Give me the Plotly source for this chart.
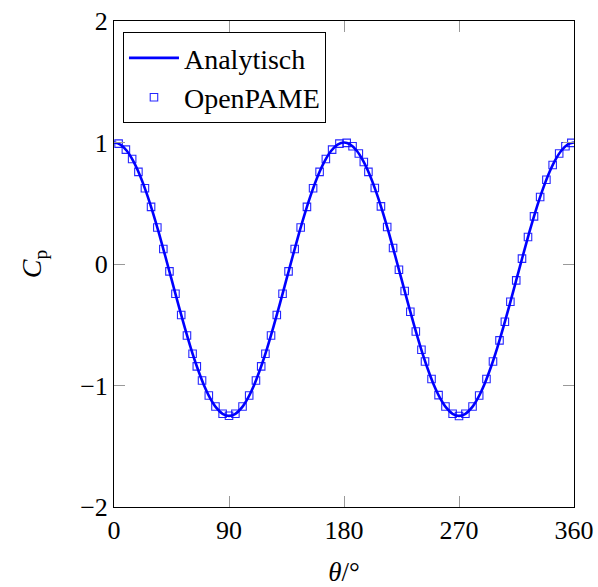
import plotly.graph_objects as go

# Analytic curve (every 5 degrees)
theta_line = list(range(0, 365, 5))
cp_line = [
    1.000, 0.983, 0.932, 0.849, 0.737, 0.598, 0.438, 0.260, 0.070, -0.125,
    -0.320, -0.510, -0.688, -0.848, -0.987, -1.099, -1.182, -1.233, -1.250,
    -1.233, -1.182, -1.099, -0.987, -0.848, -0.688, -0.510, -0.320, -0.125,
    0.070, 0.260, 0.438, 0.598, 0.737, 0.849, 0.932, 0.983, 1.000,
    0.983, 0.932, 0.849, 0.737, 0.598, 0.438, 0.260, 0.070, -0.125,
    -0.320, -0.510, -0.688, -0.848, -0.987, -1.099, -1.182, -1.233, -1.250,
    -1.233, -1.182, -1.099, -0.987, -0.848, -0.688, -0.510, -0.320, -0.125,
    0.070, 0.260, 0.438, 0.598, 0.737, 0.849, 0.932, 0.983, 1.000,
]

# OpenPAME panel results
theta_pts = [
    3.6, 9.3, 14.2, 19.1, 24.2, 29.0, 33.9, 38.6, 43.4, 48.1, 52.6, 57.1, 61.5,
    64.8, 68.9, 74.2, 79.4, 85.0, 90.0,
    95.0, 100.6, 105.8, 111.1, 115.2, 118.5, 122.9, 127.4, 131.9, 136.6, 141.4,
    146.1, 151.0, 155.8, 160.9, 165.8, 170.7, 176.4,
    182.1, 186.7, 191.6, 195.5, 199.1, 204.1, 208.9, 213.8, 218.4, 223.0, 227.5,
    231.9, 236.2, 240.6, 243.4, 248.5, 254.0, 259.4, 265.0, 270.0,
    275.0, 280.6, 285.8, 291.5, 296.6, 301.7, 305.9, 310.2, 314.8, 319.3, 324.0,
    328.7, 333.5, 338.4, 343.3, 348.4, 353.3, 357.9,
]
cp_pts = [
    0.991, 0.941, 0.864, 0.758, 0.623, 0.470, 0.301, 0.124, -0.061, -0.245, -0.420, -0.588, -0.739,
    -0.843, -0.959, -1.082, -1.173, -1.233, -1.249,
    -1.233, -1.173, -1.082, -0.959, -0.843, -0.739, -0.588, -0.420, -0.245, -0.061, 0.124,
    0.301, 0.470, 0.623, 0.758, 0.864, 0.941, 0.991,
    0.997, 0.969, 0.909, 0.840, 0.758, 0.626, 0.474, 0.305, 0.132, -0.047, -0.222,
    -0.393, -0.555, -0.706, -0.802, -0.947, -1.079, -1.173, -1.233, -1.251,
    -1.233, -1.173, -1.082, -0.947, -0.802, -0.629, -0.475, -0.311, -0.135, 0.044, 0.222,
    0.392, 0.552, 0.694, 0.815, 0.909, 0.969, 0.997,
]

x_ticks = [0, 90, 180, 270, 360]
y_ticks = [-2, -1, 0, 1, 2]

FONT = "Liberation Serif"

fig = go.Figure()
fig.add_trace(go.Scatter(
    x=theta_line, y=cp_line, mode="lines", name="Analytisch",
    line=dict(color="#0000ff", width=2.6, shape="spline"),
))
fig.add_trace(go.Scatter(
    x=theta_pts, y=cp_pts, mode="markers", name="OpenPAME",
    marker=dict(symbol="square-open", size=7.5, color="rgba(0,0,255,0.85)",
                line=dict(width=1.1, color="rgba(0,0,255,0.85)")),
))

axis_common = dict(
    showline=True, linecolor="black", linewidth=1, mirror="ticks",
    ticks="inside", ticklen=11, tickcolor="#999", tickwidth=1,
    showgrid=False, zeroline=False, automargin=False,
    tickfont=dict(family=FONT, size=26, color="black"),
)

fig.update_layout(
    width=598, height=587,
    margin=dict(l=114, r=24, t=21, b=80),
    paper_bgcolor="white", plot_bgcolor="white",
    font=dict(family=FONT, color="black"),
    xaxis=dict(range=[0, 360], tickvals=x_ticks,
               title=dict(text="<i>θ</i>/°", font=dict(family=FONT, size=27), standoff=20),
               **axis_common),
    yaxis=dict(range=[-2, 2], tickvals=y_ticks,
               title=dict(text="<i>C</i><sub>p</sub>", font=dict(family=FONT, size=28), standoff=30),
               **axis_common),
    legend=dict(x=0.0195, y=0.977, xanchor="left", yanchor="top",
                bgcolor="white", bordercolor="black", borderwidth=1,
                font=dict(family=FONT, size=28, color="black"),
                itemwidth=50, tracegroupgap=0),
    showlegend=True,
)

fig.write_html("out.html", config={"displayModeBar": False},
               post_script="document.body.style.margin='0';")
